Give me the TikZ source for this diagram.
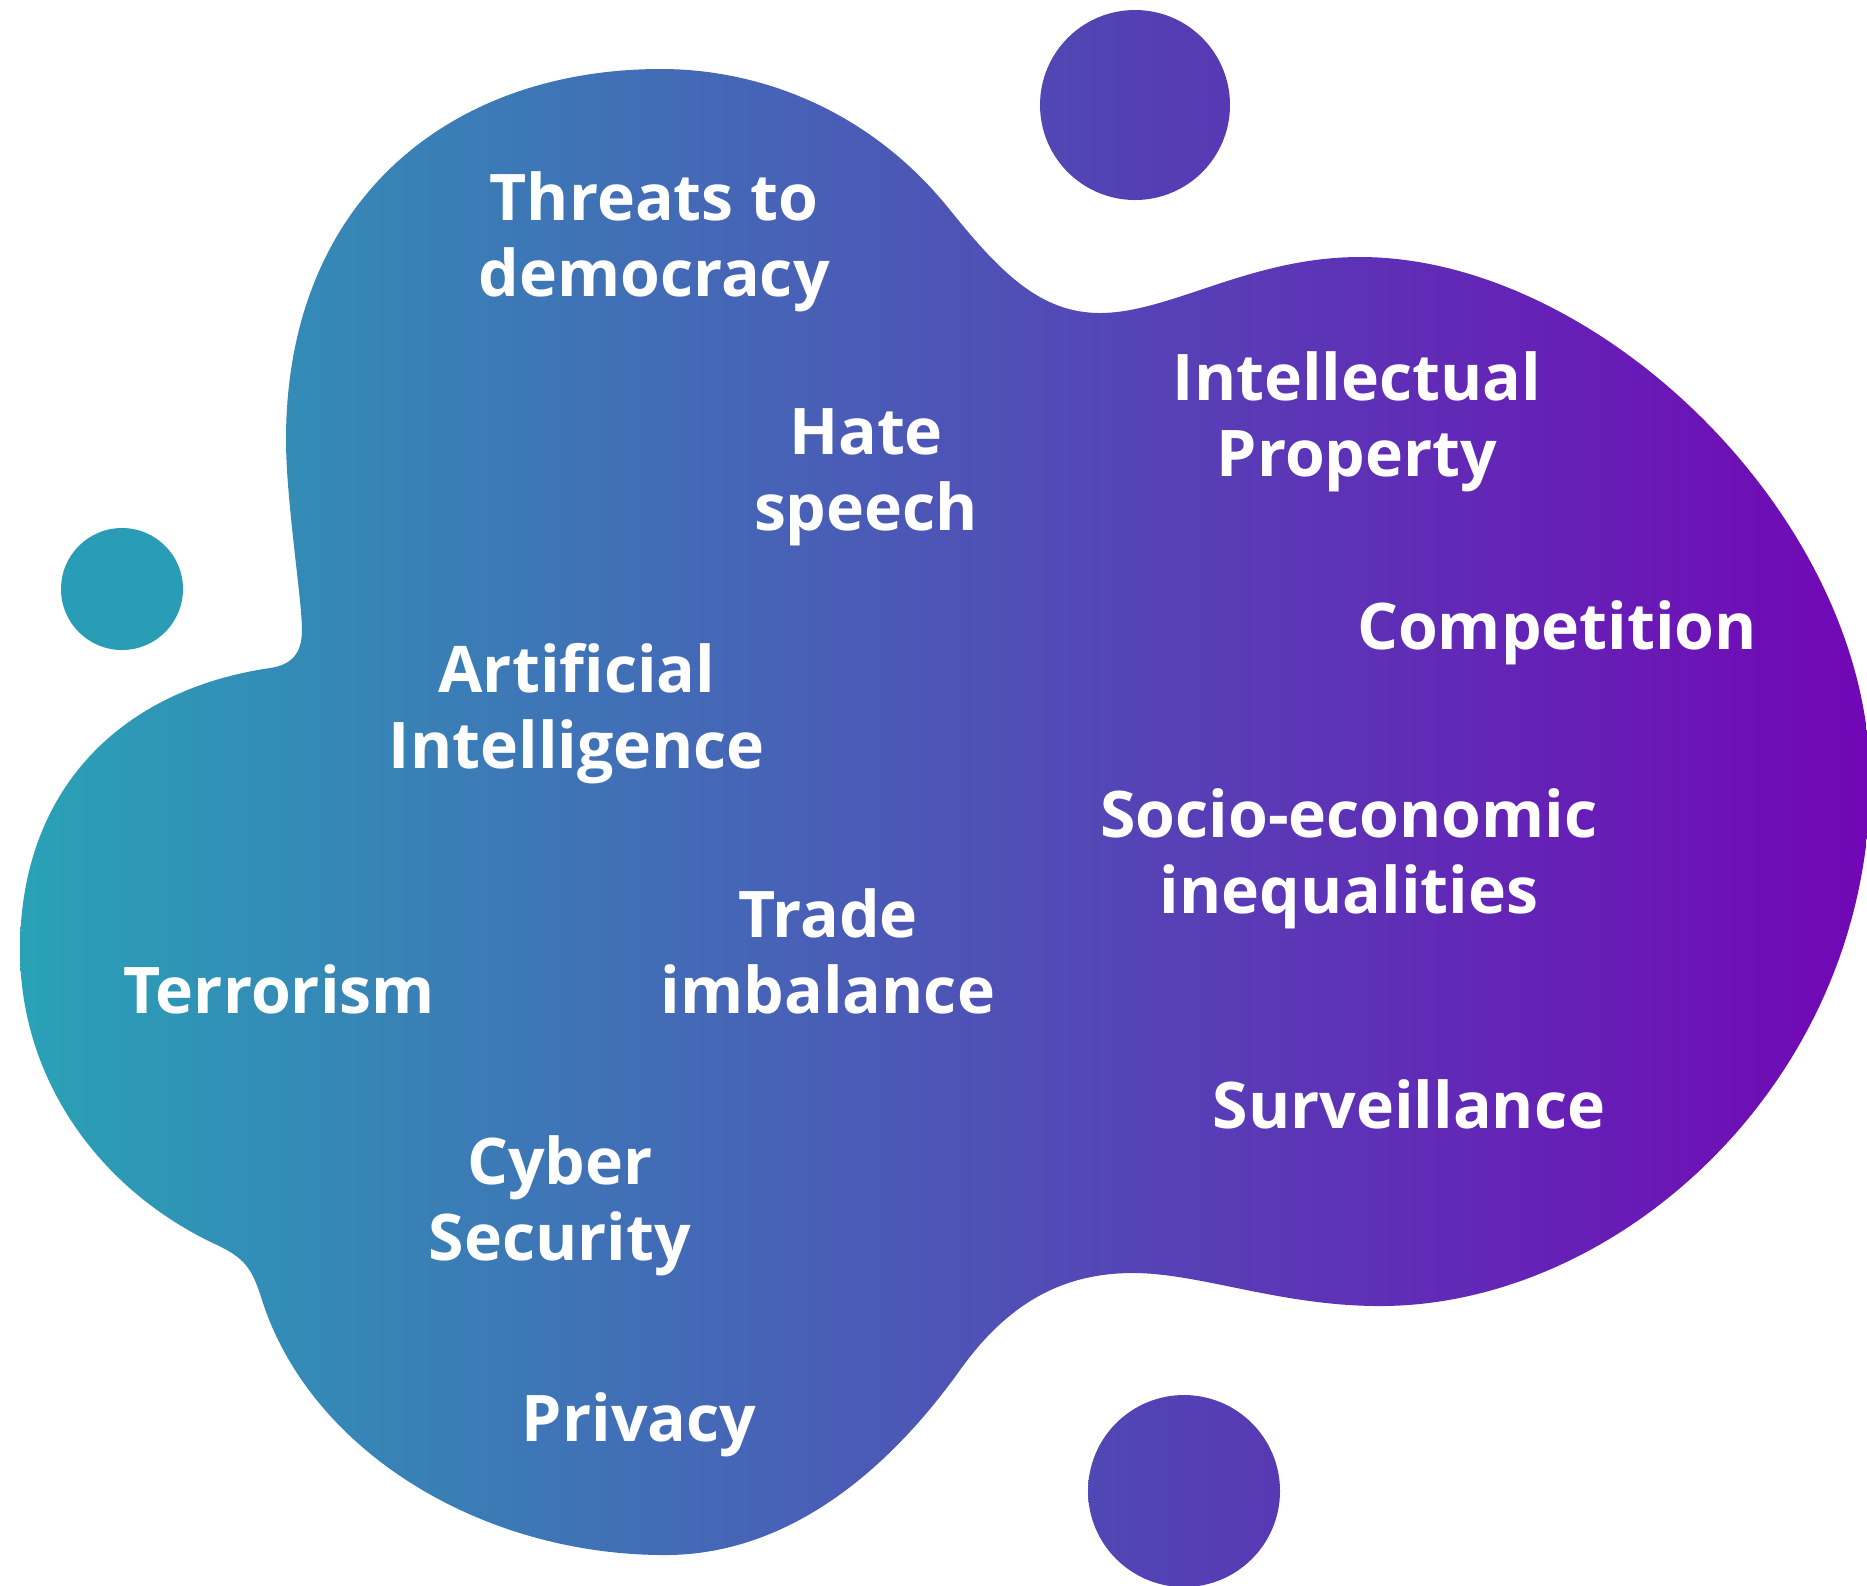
\documentclass[tikz,border=0pt]{standalone}
\usepackage{fontspec}
\newfontfamily\blobfont{Open Sans}

\definecolor{tealA}{HTML}{29A2B6}
\definecolor{blueM}{HTML}{4E4CB5}
\definecolor{violetZ}{HTML}{7206B6}
\definecolor{dotL}{HTML}{5048B4}
\definecolor{dotR}{HTML}{5838B4}
\definecolor{dotT}{HTML}{2A9DB6}

\begin{document}
\begin{tikzpicture}[x=0.1mm, y=-0.1mm,
  blob/.style={left color=tealA, middle color=blueM, right color=violetZ},
  dot/.style={left color=dotL, right color=dotR},
  topic/.style={text=white, font=\blobfont\bfseries\fontsize{18.3}{21.6}\selectfont, align=center, inner sep=0pt, anchor=base},
]
\useasboundingbox (0,0) rectangle (1867,1585);

% --- Blob ---
\shade[blob] (661,69)
  .. controls (760,69) and (870,110) .. (950,210)
  .. controls (1000,272) and (1040,313) .. (1100,313)
  .. controls (1170,313) and (1250,257) .. (1360,257)
  .. controls (1600,257) and (1870,520) .. (1870,780)
  .. controls (1870,1080) and (1620,1306) .. (1380,1306)
  .. controls (1280,1306) and (1200,1273) .. (1133,1273)
  .. controls (1066,1273) and (1010,1300) .. (960,1370)
  .. controls (900,1454) and (800,1555) .. (665,1555)
  .. controls (480,1555) and (310,1450) .. (262,1300)
  .. controls (252,1268) and (245,1258) .. (215,1244)
  .. controls (100,1190) and (20,1080) .. (20,950)
  .. controls (20,790) and (120,690) .. (270,668)
  .. controls (290,665) and (302,655) .. (302,630)
  .. controls (302,600) and (286,500) .. (286,440)
  .. controls (286,200) and (450,69) .. (661,69) -- cycle;

% --- Dots ---
\shade[dot] (1135,105) circle (9.5mm);
\shade[dot] (1184,1491) circle (9.6mm);
\fill[dotT] (122,589) circle (6.1mm);

% --- Topics ---
\node[topic] (threats) at (654,296) {Threats to\\democracy};
\node[topic] (hate) at (866,530) {Hate\\speech};
\node[topic] (intel) at (1357,476) {Intellectual\\Property};
\node[topic] (comp) at (1557,649) {Competition};
\node[topic] (ai) at (577,768) {Artificial\\Intelligence};
\node[topic] (socio) at (1349,913) {Socio-economic\\inequalities};
\node[topic] (trade) at (828,1013) {Trade\\imbalance};
\node[topic] (terror) at (279,1013) {Terrorism};
\node[topic] (surv) at (1409,1128) {Surveillance};
\node[topic] (cyber) at (560,1260) {Cyber\\Security};
\node[topic] (privacy) at (639,1441) {Privacy};

\end{tikzpicture}
\end{document}
